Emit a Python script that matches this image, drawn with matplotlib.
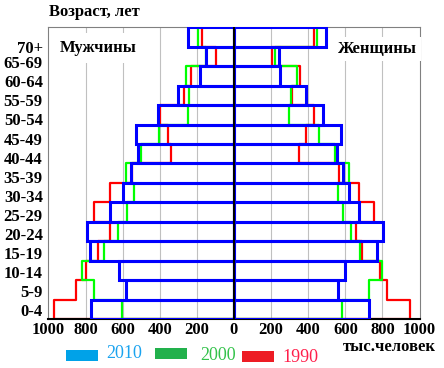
import numpy as np
import matplotlib
matplotlib.use("Agg")
import matplotlib.pyplot as plt
from matplotlib.patches import Rectangle

plt.rcParams["font.family"] = ["Liberation Serif", "DejaVu Serif"]

# age groups from bottom to top
ages = ["0-4", "5-9", "10-14", "15-19", "20-24", "25-29", "30-34", "35-39",
        "40-44", "45-49", "50-54", "55-59", "60-64", "65-69", "70+"]

# thousands of people
men_2010 = [768, 582, 620, 777, 793, 669, 600, 557, 515, 526, 412, 303, 182, 151, 250]
men_2000 = [604, 752, 820, 698, 625, 577, 539, 583, 499, 402, 250, 240, 261, 151, 196]
men_1990 = [971, 849, 800, 734, 669, 755, 669, 547, 337, 353, 398, 268, 230, 99, 171]

women_2010 = [727, 558, 598, 768, 805, 673, 619, 586, 555, 578, 478, 388, 249, 243, 496]
women_2000 = [582, 725, 800, 678, 630, 587, 560, 618, 542, 456, 295, 306, 340, 220, 446]
women_1990 = [947, 827, 786, 689, 657, 757, 673, 565, 349, 388, 430, 313, 354, 204, 430]

x_ticks = [-1000, -800, -600, -400, -200, 0, 200, 400, 600, 800, 1000]


def step_outline(values, sign):
    """stepped outline of a pyramid half, closed back to the centre line"""
    xs, ys = [0], [-0.5]
    for i, v in enumerate(values):
        xs += [sign * v, sign * v]
        ys += [i - 0.5, i + 0.5]
    xs.append(0)
    ys.append(len(values) - 0.5)
    return xs, ys


fig = plt.figure(figsize=(4.44, 3.68), dpi=100)
ax = fig.add_axes([0.109, 0.133, 0.836, 0.793])

y = np.arange(len(ages))

for xv in [-800, -600, -400, -200, 200, 400, 600, 800]:
    ax.axvline(xv, color="#c0c0c0", lw=0.8, zorder=0)

for vals, sign in [(men_1990, -1), (women_1990, 1)]:
    xs, ys = step_outline(vals, sign)
    ax.plot(xs, ys, color="#ff0000", lw=1.6, zorder=2)
for vals, sign in [(men_2000, -1), (women_2000, 1)]:
    xs, ys = step_outline(vals, sign)
    ax.plot(xs, ys, color="#00ff00", lw=1.6, zorder=3)

ax.barh(y, -np.array(men_2010), height=1, fill=False, edgecolor="#0000ff", lw=2.2, zorder=4)
ax.barh(y, women_2010, height=1, fill=False, edgecolor="#0000ff", lw=2.2, zorder=4)
ax.axvline(0, color="black", lw=1.5, zorder=5)

ax.set_xlim(-1000, 1000)
ax.set_ylim(-0.5, len(ages) - 0.5)

ax.set_xticks(x_ticks)
ax.set_xticklabels([str(abs(t)) for t in x_ticks], fontweight="bold", fontsize=12)
label_pos = np.arange(len(ages)) * 0.98 - 0.04
label_pos[-1] = 13.47
ax.set_yticks(label_pos)
ax.set_yticklabels(ages, fontweight="bold", fontsize=12)
ax.tick_params(axis="both", length=0)
ax.tick_params(axis="x", pad=2)
ax.tick_params(axis="y", pad=4)

for side in ["top", "left", "right"]:
    ax.spines[side].set_color("#808080")
    ax.spines[side].set_linewidth(0.8)
ax.spines["bottom"].set_color("black")
ax.spines["bottom"].set_linewidth(1.5)

ax.text(0.03, 0.93, "Мужчины", transform=ax.transAxes, fontsize=12, fontweight="bold",
        ha="left", va="center", zorder=6,
        bbox=dict(facecolor="white", edgecolor="none", pad=5))
ax.text(0.993, 0.925, "Женщины", transform=ax.transAxes, fontsize=12, fontweight="bold",
        ha="right", va="center", zorder=6,
        bbox=dict(facecolor="white", edgecolor="none", pad=3))

fig.text(49 / 444, 1 - 12 / 368, "Возраст, лет", fontsize=12, fontweight="bold",
         ha="left", va="center")
fig.text(436 / 444, 1 - 347 / 368, "тыс.человек", fontsize=12, fontweight="bold",
         ha="right", va="center")

# legend drawn by hand
legend_items = [
    ("2010", "#00a2e8", "#1aa3ef", 66, 350, 106, 353),
    ("2000", "#22b14c", "#33c24a", 155, 348, 200, 356),
    ("1990", "#ed1c24", "#ff1f4a", 242, 351, 282, 358),
]
for label, fc, tc, rx, ry, tx, ty in legend_items:
    fig.patches.append(Rectangle((rx / 444, 1 - (ry + 11) / 368), 32 / 444, 11 / 368,
                                 transform=fig.transFigure, facecolor=fc, edgecolor="none"))
    fig.text(tx / 444, 1 - ty / 368, label, color=tc, fontsize=13,
             ha="left", va="center")

fig.savefig("out.png", dpi=100)
